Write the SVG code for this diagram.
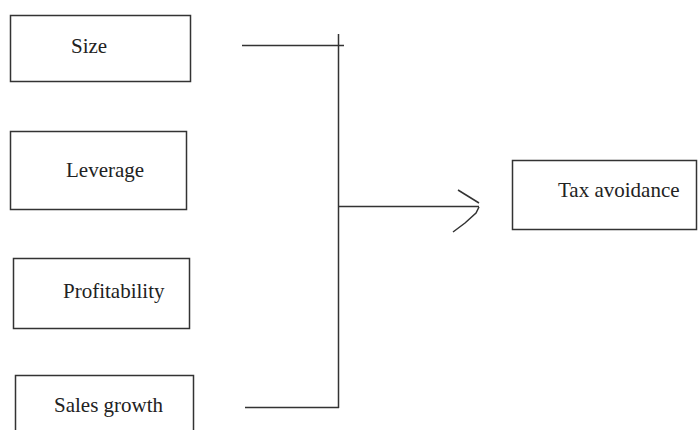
<svg xmlns="http://www.w3.org/2000/svg" width="698" height="430" viewBox="0 0 698 430">
<style>
.box{fill:#fff;stroke:#333;stroke-width:1.5}
.lbl{font-family:'Liberation Serif','DejaVu Serif',serif;font-size:21px;fill:#222}
.ln{fill:none;stroke:#333;stroke-width:1.5}
</style>
<rect width="698" height="430" fill="#fff"/>
<g id="size"><rect class="box" x="10.5" y="15.5" width="180" height="66"/><text class="lbl" x="71" y="53">Size</text></g>
<g id="leverage"><rect class="box" x="10.5" y="131.5" width="176" height="78"/><text class="lbl" x="66" y="177">Leverage</text></g>
<g id="profitability"><rect class="box" x="13.5" y="258.5" width="176" height="70"/><text class="lbl" x="63" y="298">Profitability</text></g>
<g id="sales-growth"><rect class="box" x="15.5" y="375.5" width="178" height="70"/><text class="lbl" x="54" y="412">Sales growth</text></g>
<g id="tax-avoidance"><rect class="box" x="512.5" y="160.5" width="184" height="69"/><text class="lbl" x="558" y="197">Tax avoidance</text></g>
<g id="connectors">
<line class="ln" x1="242" y1="45.5" x2="344" y2="45.5"/>
<line class="ln" x1="338.5" y1="34" x2="338.5" y2="408"/>
<line class="ln" x1="245" y1="407.5" x2="339" y2="407.5"/>
<line class="ln" x1="338" y1="206.5" x2="479" y2="206.5"/>
<polyline class="ln" points="458,190 479,203"/>
<polyline class="ln" points="479,207 476,213 465,223 453,232"/>
</g>
</svg>
